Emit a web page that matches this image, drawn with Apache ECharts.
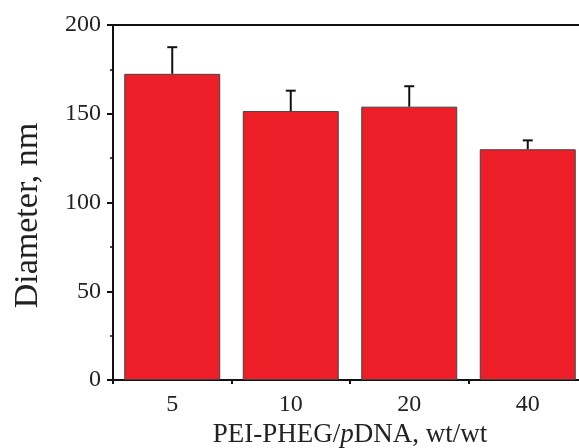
<!DOCTYPE html>
<html>
<head>
<meta charset="utf-8">
<script src="https://cdn.jsdelivr.net/npm/echarts@6/dist/echarts.min.js"></script>
<style>
  html, body { margin: 0; padding: 0; background: #fff; overflow: hidden; }
  #chart { width: 579px; height: 448px; }
</style>
</head>
<body>
<div id="chart"></div>
<script>
// 数据
const categories = ['5', '10', '20', '40'];
const diameters = [172.5, 151.5, 154, 130];
const errors = [15, 11.5, 11.5, 5];

const font = 'Liberation Serif';

const myChart = echarts.init(document.getElementById('chart'));

const option = {
    animation: false,
    grid: {
        top: 25,
        bottom: 68,
        left: 113,
        right: -8, // 右侧坐标轴在原图中被裁掉
        outerBoundsMode: 'none',
        show: true,
        borderColor: '#111',
        borderWidth: 2
    },
    xAxis: {
        type: 'category',
        data: categories,
        name: 'PEI-PHEG/{i|p}DNA, wt/wt',
        nameLocation: 'middle',
        nameGap: 41,
        nameTextStyle: {
            fontFamily: font,
            fontSize: 27,
            color: '#222',
            rich: {
                i: { fontFamily: font, fontSize: 27, fontStyle: 'italic', color: '#222' }
            }
        },
        axisLine: { lineStyle: { color: '#111', width: 2 } },
        axisTick: { show: true, length: 4, lineStyle: { color: '#111', width: 2 } },
        axisLabel: { fontFamily: font, fontSize: 24, color: '#222', margin: 13 }
    },
    yAxis: {
        type: 'value',
        min: 0,
        max: 200,
        interval: 50,
        name: 'Diameter, nm',
        nameLocation: 'middle',
        nameGap: 68,
        nameTextStyle: { fontFamily: font, fontSize: 34, color: '#222', padding: [0, 26, 0, 0] },
        splitLine: { show: false },
        axisLine: { show: true, lineStyle: { color: '#111', width: 2 } },
        axisTick: { show: true, length: 6, lineStyle: { color: '#111', width: 2 } },
        minorTick: { show: true, splitNumber: 2, length: 3, lineStyle: { color: '#111', width: 1.5 } },
        axisLabel: { fontFamily: font, fontSize: 24, color: '#222', margin: 12 }
    },
    series: [{
        type: 'bar',
        data: diameters,
        barCategoryGap: '19%',
        itemStyle: {
            color: '#ED1E27',
            borderColor: '#444',
            borderWidth: 1
        },
        z: 2
    }, {
        // 误差棒
        type: 'custom',
        data: diameters.map((d, i) => [i, d, d + errors[i]]),
        renderItem: function (params, api) {
            const low = api.coord([api.value(0), api.value(1)]);
            const high = api.coord([api.value(0), api.value(2)]);
            const half = 5;
            const style = { stroke: '#111', lineWidth: 2 };
            return {
                type: 'group',
                children: [{
                    type: 'line',
                    shape: { x1: low[0], y1: low[1], x2: high[0], y2: high[1] },
                    style: style
                }, {
                    type: 'line',
                    shape: { x1: high[0] - half, y1: high[1], x2: high[0] + half, y2: high[1] },
                    style: style
                }]
            };
        },
        z: 3
    }]
};

myChart.setOption(option);
</script>
</body>
</html>
